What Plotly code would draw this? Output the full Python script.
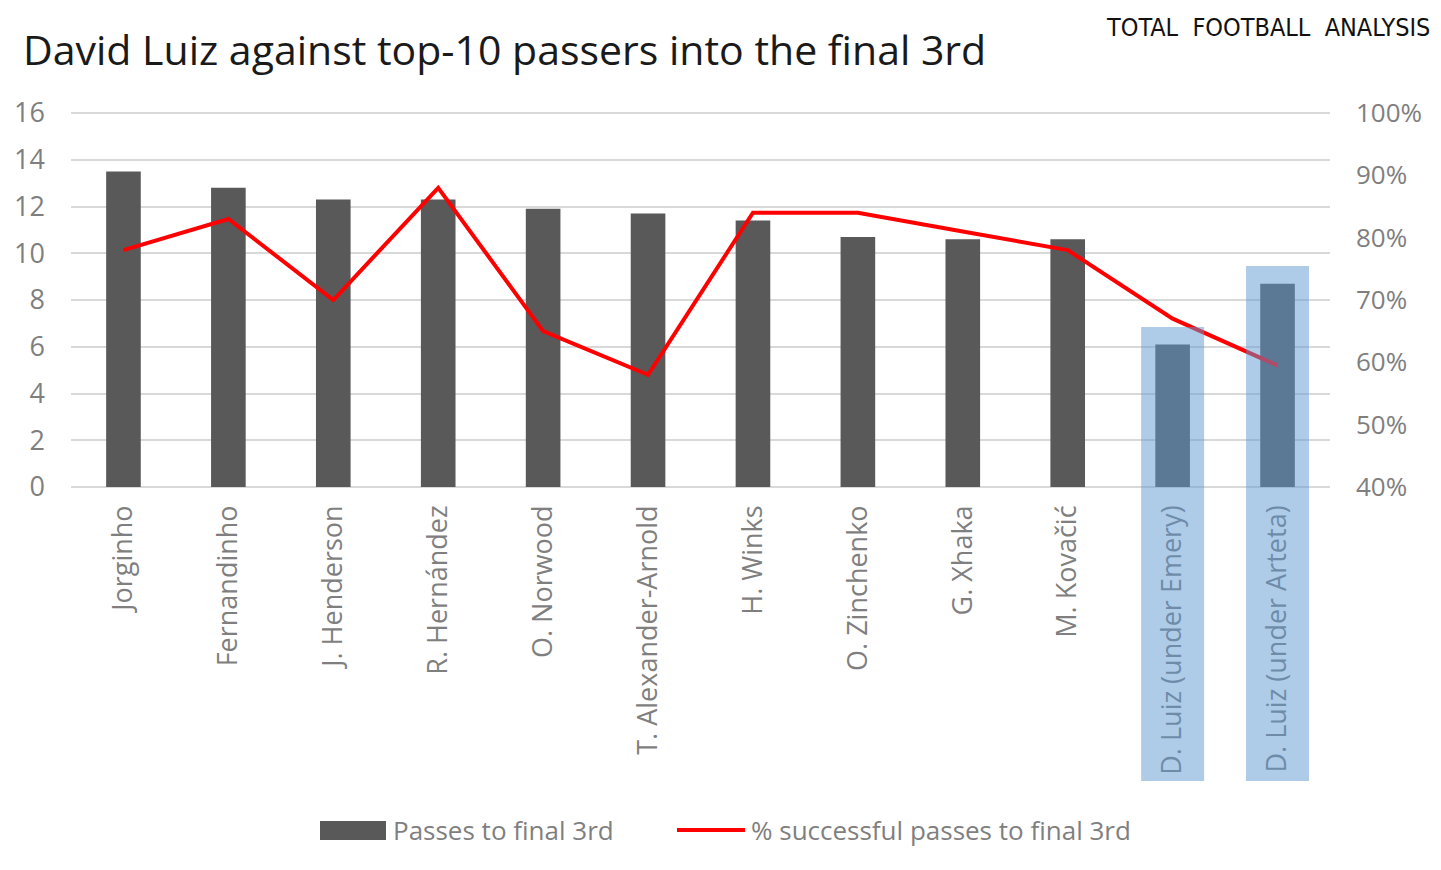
import plotly.graph_objects as go

players = ["Jorginho", "Fernandinho", "J. Henderson", "R. Hernández", "O. Norwood",
           "T. Alexander-Arnold", "H. Winks", "O. Zinchenko", "G. Xhaka", "M. Kovačić",
           "D. Luiz (under Emery)", "D. Luiz (under Arteta)"]
passes = [13.5, 12.8, 12.3, 12.3, 11.9, 11.7, 11.4, 10.7, 10.6, 10.6, 6.1, 8.7]
success_pct = [78, 83, 70, 88, 65, 58, 84, 84, 81, 78, 67, 59.5]
highlighted = ["D. Luiz (under Emery)", "D. Luiz (under Arteta)"]
left_ticks = [0, 2, 4, 6, 8, 10, 12, 14, 16]
right_ticks = [40, 50, 60, 70, 80, 90, 100]
right_labels = ["40%", "50%", "60%", "70%", "80%", "90%", "100%"]

W, H = 1441, 870
PL, PR, PT, PB = 71, 1330, 111, 487
FONT = "Open Sans"
GRAY = "#7f7f7f"

# one pixel of headroom so the top gridline is drawn
unit_px = (PB - 113) / (left_ticks[-1] - left_ticks[0])
left_top = left_ticks[-1] + (113 - PT) / unit_px
pct_px = (PB - 113) / (right_ticks[-1] - right_ticks[0])
right_top = right_ticks[-1] + (113 - PT) / pct_px


def px_x(x):
    return (x - PL) / (PR - PL)


def px_y(y):
    return (PB - y) / (PB - PT)


fig = go.Figure()
fig.add_trace(go.Bar(x=players, y=passes, name="Passes to final 3rd",
                     marker=dict(color="#595959", line=dict(width=0)), width=0.33,
                     showlegend=False))
fig.add_trace(go.Scatter(x=players, y=success_pct, name="% successful passes to final 3rd",
                         mode="lines", line=dict(color="#ff0000", width=4),
                         yaxis="y2", showlegend=False))

shapes = []
n = len(players)
for name in highlighted:
    i = players.index(name)
    v = passes[i]
    shapes.append(dict(type="rect", xref="paper", yref="paper",
                       x0=(i + 0.5 - 0.3) / n, x1=(i + 0.5 + 0.3) / n,
                       y0=px_y(781), y1=(v + 0.75) / left_top,
                       fillcolor="rgba(93,151,209,0.5)", line=dict(width=0), layer="above"))

# custom legend
shapes.append(dict(type="rect", xref="paper", yref="paper",
                   x0=px_x(320), x1=px_x(386), y0=px_y(840), y1=px_y(821),
                   fillcolor="#595959", line=dict(width=0)))
shapes.append(dict(type="line", xref="paper", yref="paper",
                   x0=px_x(677), x1=px_x(745), y0=px_y(830), y1=px_y(830),
                   line=dict(color="#ff0000", width=4)))

annotations = [
    dict(text="David Luiz against top-10 passers into the final 3rd", xref="paper", yref="paper",
         x=px_x(21), y=px_y(49), xanchor="left", yanchor="middle", showarrow=False,
         font=dict(family=FONT, size=41, color="#1a1a1a")),
    dict(text="Passes to final 3rd", xref="paper", yref="paper",
         x=px_x(391), y=px_y(830), xanchor="left", yanchor="middle", showarrow=False,
         font=dict(family=FONT, size=26, color=GRAY)),
    dict(text="% successful passes to final 3rd", xref="paper", yref="paper",
         x=px_x(749), y=px_y(830), xanchor="left", yanchor="middle", showarrow=False,
         font=dict(family=FONT, size=26, color=GRAY)),
    dict(text="TOTAL  FOOTBALL  ANALYSIS", xref="paper", yref="paper",
         x=px_x(1432), y=px_y(27), xanchor="right", yanchor="middle", showarrow=False,
         font=dict(family="DejaVu Sans Condensed", size=25, color="#111111")),
]

fig.update_layout(
    width=W, height=H,
    margin=dict(l=PL, r=W - PR, t=PT, b=H - PB, pad=0),
    paper_bgcolor="white", plot_bgcolor="white",
    font=dict(family=FONT, size=26, color=GRAY),
    shapes=shapes,
    annotations=annotations,
    showlegend=False,
    xaxis=dict(type="category", range=[-0.5, n - 0.5], tickangle=-90, showgrid=False,
               showline=False, ticks="", tickfont=dict(family=FONT, size=27, color=GRAY),
               ticklabelstandoff=12),
    yaxis=dict(range=[0, left_top], tickvals=left_ticks, showgrid=True,
               gridcolor="#d9d9d9", gridwidth=2, zeroline=True, zerolinecolor="#d9d9d9",
               zerolinewidth=2, ticks="", showline=False,
               tickfont=dict(family=FONT, size=27, color=GRAY), ticklabelstandoff=25),
    yaxis2=dict(range=[right_ticks[0], right_top], tickvals=right_ticks, ticktext=right_labels,
                overlaying="y", side="right", showgrid=False,
                zeroline=False, ticks="", showline=False,
                tickfont=dict(family=FONT, size=26, color=GRAY), ticklabelstandoff=25),
)

fig.write_html("out.html", config={"displayModeBar": False},
               post_script="document.body.style.margin='0';")
